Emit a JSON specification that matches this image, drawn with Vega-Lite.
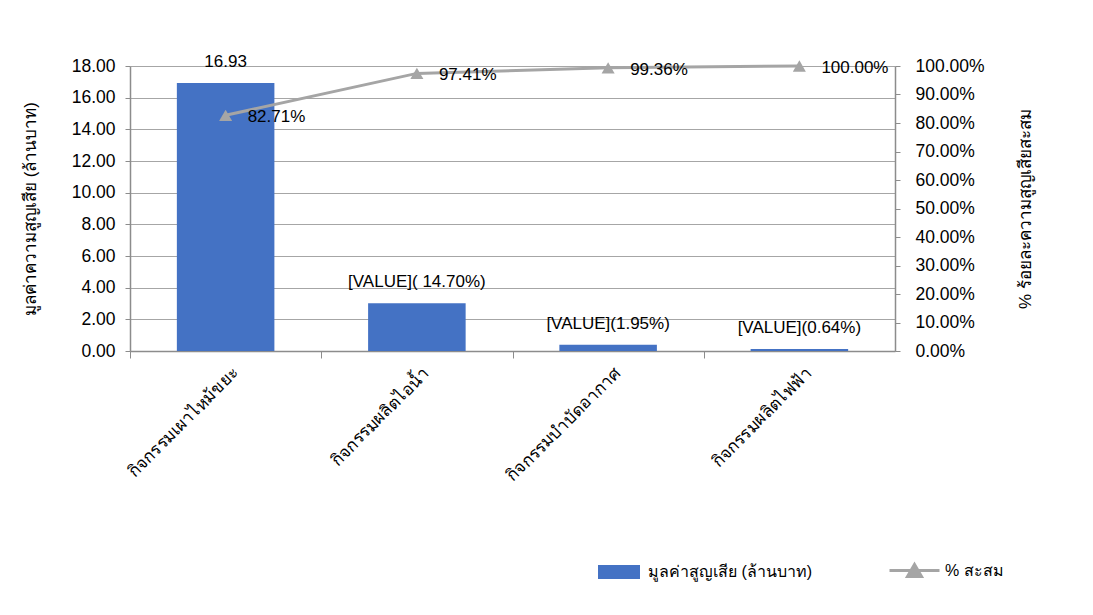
{
  "$schema": "https://vega.github.io/schema/vega-lite/v6.json",
  "width": 765,
  "height": 285,
  "autosize": {"type": "none"},
  "padding": {"left": 130, "top": 66, "right": 198, "bottom": 264},
  "background": "white",
  "config": {
    "font": "Liberation Sans",
    "view": {"stroke": null},
    "axis": {"labelFontSize": 17.5, "labelColor": "#000", "titleFontSize": 17, "titleFontWeight": "normal", "titleColor": "#000", "domainColor": "#8c8c8c", "tickColor": "#8c8c8c", "gridColor": "#a6a6a6", "domainWidth": 1.5},
    "legend": {"labelFontSize": 16, "labelColor": "#000", "labelLimit": 400}
  },
  "data": {
    "values": [
      {"cat": "กิจกรรมเผาไหม้ขยะ", "value": 16.93, "cum": 0.8271, "label": "16.93"},
      {"cat": "กิจกรรมผลิตไอน้ำ", "value": 3.01, "cum": 0.9741, "label": "[VALUE]( 14.70%)"},
      {"cat": "กิจกรรมบำบัดอากาศ", "value": 0.4, "cum": 0.9936, "label": "[VALUE](1.95%)"},
      {"cat": "กิจกรรมผลิตไฟฟ้า", "value": 0.13, "cum": 1.0, "label": "[VALUE](0.64%)"}
    ]
  },
  "encoding": {
    "x": {
      "field": "cat", "type": "nominal", "sort": null,
      "scale": {"paddingInner": 0.49, "paddingOuter": 0.245},
      "axis": {"title": null, "labelAngle": -45, "labelAlign": "right", "labelBaseline": "middle", "labelFontSize": 17, "tickOffset": -95.6, "labelOffset": 105, "labelPadding": 12, "tickSize": 7, "grid": false}
    }
  },
  "layer": [
    {
      "encoding": {
        "y": {
          "field": "value", "type": "quantitative",
          "scale": {"domain": [0, 18], "nice": false},
          "axis": {"orient": "left", "title": "มูลค่าความสูญเสีย (ล้านบาท)", "format": ".2f", "values": [0, 2, 4, 6, 8, 10, 12, 14, 16, 18], "grid": true, "tickSize": 5, "labelPadding": 10, "titlePadding": 32}
        }
      },
      "layer": [
        {
          "mark": {"type": "bar"},
          "encoding": {
            "fill": {"datum": "มูลค่าสูญเสีย (ล้านบาท)", "scale": {"range": ["#4472C4"]}, "title": null,
              "legend": {"orient": "none", "legendX": 468, "legendY": 485, "symbolType": "M-1,-0.33H1V0.33H-1Z", "symbolSize": 1764, "symbolStrokeWidth": 0, "labelOffset": 8}}
          }
        },
        {
          "mark": {"type": "text", "fontSize": 17, "baseline": "alphabetic", "dy": -16, "color": "#000"},
          "encoding": {"text": {"field": "label"}}
        }
      ]
    },
    {
      "encoding": {
        "y": {
          "field": "cum", "type": "quantitative",
          "scale": {"domain": [0, 1], "nice": false},
          "axis": {"orient": "right", "title": "% ร้อยละความสูญเสียสะสม", "format": ".2%", "values": [0, 0.1, 0.2, 0.3, 0.4, 0.5, 0.6, 0.7, 0.8, 0.9, 1.0], "grid": false, "tickSize": 5, "labelPadding": 15, "titlePadding": 50, "titleAngle": 270}
        }
      },
      "layer": [
        {
          "mark": {"type": "line", "strokeWidth": 3},
          "encoding": {
            "stroke": {"datum": "% สะสม", "scale": {"range": ["#A5A5A5"]}, "title": null,
              "legend": {"orient": "none", "legendX": 758, "legendY": 478, "symbolType": "M-1,0H1M-0.28,0.24L0,-0.24L0.28,0.24Z", "symbolSize": 2500, "symbolStrokeWidth": 3, "symbolFillColor": "#A5A5A5", "labelOffset": 4}}
          }
        },
        {
          "mark": {"type": "point", "shape": "triangle-up", "size": 170, "filled": true, "color": "#A5A5A5", "opacity": 1}
        },
        {
          "mark": {"type": "text", "fontSize": 17, "align": "left", "baseline": "middle", "dx": 22, "dy": 2, "color": "#000"},
          "encoding": {"text": {"field": "cum", "format": ".2%"}}
        }
      ]
    }
  ],
  "resolve": {"scale": {"y": "independent", "fill": "independent", "stroke": "independent"}}
}
